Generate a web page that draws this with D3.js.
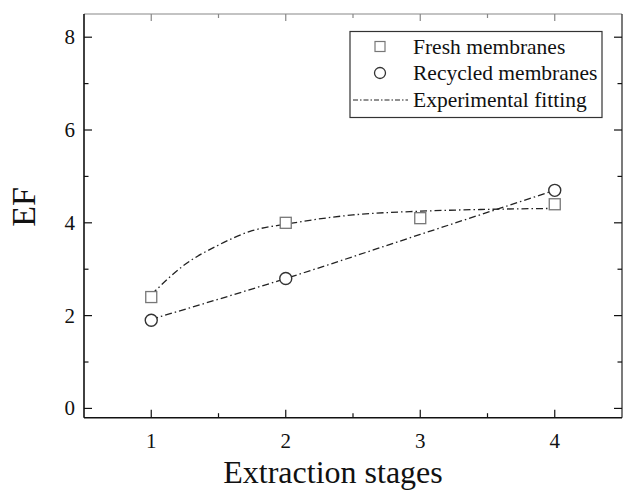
<!DOCTYPE html>
<html><head><meta charset="utf-8">
<script src="https://cdn.jsdelivr.net/npm/d3@7"></script>
<style>body{margin:0;background:#fff}svg{display:block}text{font-family:"Liberation Serif","Times New Roman",serif}</style>
</head><body>
<svg id="c" width="623" height="494"></svg>
<script>
const freshX = [1, 2, 3, 4];
const freshY = [2.4, 4.0, 4.1, 4.4];
const recycledX = [1, 2, 4];
const recycledY = [1.9, 2.8, 4.7];
const fitFreshX = [1, 1.25, 1.5, 1.75, 2, 2.5, 3, 3.5, 4];
const fitFreshY = [2.45, 3.1, 3.52, 3.83, 3.97, 4.17, 4.25, 4.29, 4.31];
const fitRecX = [1, 2, 3, 4];
const fitRecY = [1.92, 2.8, 3.75, 4.7];
const xTicks = [1, 2, 3, 4];
const yTicks = [0, 2, 4, 6, 8];
const legendLabels = ["Fresh membranes", "Recycled membranes", "Experimental fitting"];

const svg = d3.select("#c");
const L = 84, R = 622, T = 14, B = 417.7;
const x = d3.scaleLinear().domain([0.5, 4.5]).range([L, R]);
const y = d3.scaleLinear().domain([-0.2, 8.5]).range([B, T]);

// frame
svg.append("line").attr("x1", L).attr("x2", R).attr("y1", T).attr("y2", T).attr("stroke", "#888").attr("stroke-width", 1.2);
svg.append("line").attr("x1", R).attr("x2", R).attr("y1", T).attr("y2", B).attr("stroke", "#222").attr("stroke-width", 1.2);

const minorX = [1.5, 2.5, 3.5], minorY = [1, 3, 5, 7];
const g = svg.append("g");
xTicks.forEach(v => {
  g.append("line").attr("x1", x(v)).attr("x2", x(v)).attr("y1", B).attr("y2", B - 8).attr("stroke", "#111").attr("stroke-width", 1.2);
  g.append("line").attr("x1", x(v)).attr("x2", x(v)).attr("y1", T).attr("y2", T + 7).attr("stroke", "#888").attr("stroke-width", 1.2);
});
minorX.forEach(v => {
  g.append("line").attr("x1", x(v)).attr("x2", x(v)).attr("y1", B).attr("y2", B - 4.5).attr("stroke", "#111").attr("stroke-width", 1.2);
  g.append("line").attr("x1", x(v)).attr("x2", x(v)).attr("y1", T).attr("y2", T + 4).attr("stroke", "#888").attr("stroke-width", 1.2);
});
yTicks.forEach(v => {
  g.append("line").attr("x1", L).attr("x2", L + 8).attr("y1", y(v)).attr("y2", y(v)).attr("stroke", "#111").attr("stroke-width", 1.2);
  g.append("line").attr("x1", R).attr("x2", R - 8).attr("y1", y(v)).attr("y2", y(v)).attr("stroke", "#111").attr("stroke-width", 1.2);
});
minorY.forEach(v => {
  g.append("line").attr("x1", L).attr("x2", L + 4.5).attr("y1", y(v)).attr("y2", y(v)).attr("stroke", "#111").attr("stroke-width", 1.2);
  g.append("line").attr("x1", R).attr("x2", R - 4.5).attr("y1", y(v)).attr("y2", y(v)).attr("stroke", "#111").attr("stroke-width", 1.2);
});
svg.append("line").attr("x1", L).attr("x2", L).attr("y1", T).attr("y2", B).attr("stroke", "#111").attr("stroke-width", 1.6);
svg.append("line").attr("x1", L).attr("x2", R).attr("y1", B).attr("y2", B).attr("stroke", "#111").attr("stroke-width", 1.6);

// tick labels
xTicks.forEach(v => g.append("text").attr("x", x(v)).attr("y", B + 30).attr("text-anchor", "middle").attr("font-size", 21).attr("fill", "#111").text(v));
yTicks.forEach(v => g.append("text").attr("x", L - 9).attr("y", y(v) + 7).attr("text-anchor", "end").attr("font-size", 21).attr("fill", "#111").text(v));

// axis titles
svg.append("text").attr("x", (L + R) / 2 - 20).attr("y", 483).attr("text-anchor", "middle").attr("font-size", 32).attr("fill", "#111").text("Extraction stages");
svg.append("text").attr("transform", "translate(35,207) rotate(-90)").attr("text-anchor", "middle").attr("font-size", 34).attr("fill", "#111").text("EF");

// fitting lines
const dash = "7,3,1.5,3";
const line = d3.line().x(d => x(d[0])).y(d => y(d[1])).curve(d3.curveMonotoneX);
svg.append("path").datum(fitFreshX.map((v, i) => [v, fitFreshY[i]])).attr("d", line).attr("fill", "none").attr("stroke", "#222").attr("stroke-width", 1.3).attr("stroke-dasharray", dash);
svg.append("path").datum(fitRecX.map((v, i) => [v, fitRecY[i]])).attr("d", line).attr("fill", "none").attr("stroke", "#222").attr("stroke-width", 1.3).attr("stroke-dasharray", dash);

// markers
const s = 11;
svg.selectAll(".sq").data(freshX.map((v, i) => [v, freshY[i]])).enter().append("rect")
  .attr("x", d => x(d[0]) - s / 2).attr("y", d => y(d[1]) - s / 2).attr("width", s).attr("height", s)
  .attr("fill", "#fff").attr("stroke", "#777").attr("stroke-width", 1.3);
svg.selectAll(".ci").data(recycledX.map((v, i) => [v, recycledY[i]])).enter().append("circle")
  .attr("cx", d => x(d[0])).attr("cy", d => y(d[1])).attr("r", 6)
  .attr("fill", "#fff").attr("stroke", "#333").attr("stroke-width", 1.4);

// legend
const lg = svg.append("g");
lg.append("rect").attr("x", 350).attr("y", 31.5).attr("width", 252).attr("height", 86).attr("fill", "#fff").attr("stroke", "#333").attr("stroke-width", 1.2);
const rows = [46.5, 73, 100];
lg.append("rect").attr("x", 380 - 5).attr("y", rows[0] - 5).attr("width", 10).attr("height", 10).attr("fill", "#fff").attr("stroke", "#777").attr("stroke-width", 1.2);
lg.append("circle").attr("cx", 380).attr("cy", rows[1]).attr("r", 5.5).attr("fill", "#fff").attr("stroke", "#333").attr("stroke-width", 1.3);
lg.append("line").attr("x1", 353).attr("x2", 408).attr("y1", rows[2]).attr("y2", rows[2]).attr("stroke", "#222").attr("stroke-width", 1.2).attr("stroke-dasharray", "5,2,1.5,2");
legendLabels.forEach((t, i) => lg.append("text").attr("x", 413).attr("y", rows[i] + 7).attr("font-size", 21.5).attr("fill", "#111").text(t));
</script>
</body></html>
